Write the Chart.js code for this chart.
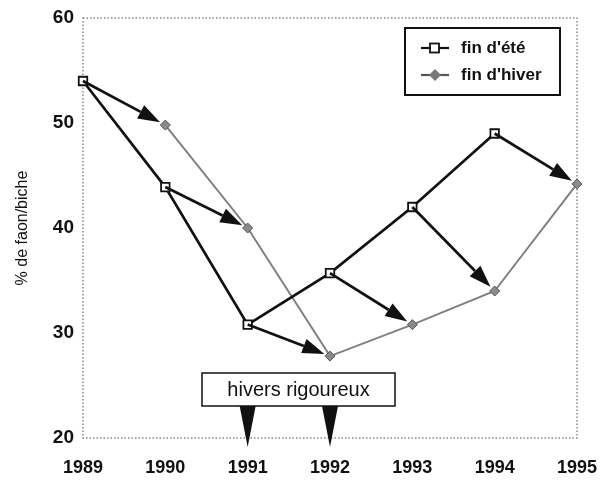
<!DOCTYPE html>
<html>
<head>
<meta charset="utf-8">
<script src="https://cdn.jsdelivr.net/npm/chart.js@4.4.0/dist/chart.umd.min.js"></script>
<style>
  html, body { margin: 0; padding: 0; background: #fff; }
  #wrap { width: 601px; height: 482px; }
</style>
</head>
<body>
<div id="wrap"><canvas id="c"></canvas></div>
<script>
const years = ['1989', '1990', '1991', '1992', '1993', '1994', '1995'];
const finEte = [54, 43.9, 30.8, 35.7, 42, 49, null];
const finHiver = [null, 49.8, 40, 27.8, 30.8, 34, 44.2];
const yTicks = [20, 30, 40, 50, 60];
const harshWinters = ['1991', '1992'];
const legendLabels = ["fin d'été", "fin d'hiver"];
const noteText = 'hivers rigoureux';

const FONT = '"Liberation Sans", Arial, sans-serif';

function arrow(ctx, x1, y1, x2, y2, back, len, half) {
    const a = Math.atan2(y2 - y1, x2 - x1);
    const tx = x2 - Math.cos(a) * back, ty = y2 - Math.sin(a) * back;
    const bx = tx - Math.cos(a) * len, by = ty - Math.sin(a) * len;
    ctx.beginPath();
    ctx.moveTo(x1, y1);
    ctx.lineTo(bx, by);
    ctx.stroke();
    ctx.beginPath();
    ctx.moveTo(tx, ty);
    ctx.lineTo(bx + Math.sin(a) * half, by - Math.cos(a) * half);
    ctx.lineTo(bx - Math.sin(a) * half, by + Math.cos(a) * half);
    ctx.closePath();
    ctx.fill();
}

// frame, arrows (été -> hiver suivant), legend and note
const extras = {
    id: 'extras',
    beforeDatasetsDraw(chart) {
        const { ctx, chartArea: a } = chart;
        ctx.save();
        ctx.strokeStyle = '#8a8a8a';
        ctx.lineWidth = 1.5;
        ctx.setLineDash([1.5, 2]);
        ctx.strokeRect(a.left, a.top, a.right - a.left, a.bottom - a.top);
        ctx.restore();
    },
    afterDatasetsDraw(chart) {
        const { ctx, scales: { x, y } } = chart;
        ctx.save();
        ctx.strokeStyle = '#111';
        ctx.fillStyle = '#111';
        ctx.lineWidth = 2.7;
        for (let i = 0; i < years.length - 1; i++) {
            if (finEte[i] == null || finHiver[i + 1] == null) continue;
            arrow(ctx, x.getPixelForValue(i), y.getPixelForValue(finEte[i]),
                x.getPixelForValue(i + 1), y.getPixelForValue(finHiver[i + 1]), 6, 22, 7.5);
        }

        // note box
        ctx.lineWidth = 1.5;
        ctx.fillStyle = '#fff';
        ctx.fillRect(202, 373, 193, 33);
        ctx.strokeRect(202, 373, 193, 33);
        ctx.fillStyle = '#111';
        ctx.font = '20px ' + FONT;
        ctx.textAlign = 'center';
        ctx.textBaseline = 'middle';
        ctx.fillText(noteText, 298.5, 390);
        harshWinters.forEach(w => {
            const px = x.getPixelForValue(years.indexOf(w));
            ctx.beginPath();
            ctx.moveTo(px - 8, 406);
            ctx.lineTo(px + 8, 406);
            ctx.lineTo(px, 447);
            ctx.closePath();
            ctx.fill();
        });

        // legend
        ctx.lineWidth = 2;
        ctx.strokeStyle = '#111';
        ctx.fillStyle = '#fff';
        ctx.fillRect(405, 28, 155, 67);
        ctx.strokeRect(405, 28, 155, 67);
        ctx.lineWidth = 2.2;
        const rows = [48, 75];
        // été symbol
        ctx.beginPath(); ctx.moveTo(421, rows[0]); ctx.lineTo(449, rows[0]); ctx.stroke();
        ctx.fillStyle = '#fff';
        ctx.fillRect(430, rows[0] - 4.5, 9, 9);
        ctx.lineWidth = 1.8;
        ctx.strokeRect(430, rows[0] - 4.5, 9, 9);
        // hiver symbol
        ctx.strokeStyle = '#555';
        ctx.lineWidth = 2.2;
        ctx.beginPath(); ctx.moveTo(421, rows[1]); ctx.lineTo(449, rows[1]); ctx.stroke();
        ctx.fillStyle = '#777';
        ctx.beginPath();
        ctx.moveTo(435, rows[1] - 6); ctx.lineTo(441, rows[1]);
        ctx.lineTo(435, rows[1] + 6); ctx.lineTo(429, rows[1]);
        ctx.closePath(); ctx.fill();
        ctx.fillStyle = '#111';
        ctx.font = 'bold 17px ' + FONT;
        ctx.textAlign = 'left';
        ctx.textBaseline = 'middle';
        ctx.fillText(legendLabels[0], 461, rows[0]);
        ctx.fillText(legendLabels[1], 461, rows[1]);
        ctx.restore();
    }
};

new Chart(document.getElementById('c'), {
    type: 'line',
    data: {
        labels: years,
        datasets: [{
            label: legendLabels[0],
            data: finEte,
            borderColor: '#111',
            borderWidth: 2.7,
            pointStyle: 'rect',
            pointRadius: 6,
            pointBackgroundColor: '#fff',
            pointBorderColor: '#111',
            pointBorderWidth: 1.8,
            tension: 0,
            spanGaps: false
        }, {
            label: legendLabels[1],
            data: finHiver,
            borderColor: '#808080',
            borderWidth: 2,
            pointStyle: 'rectRot',
            pointRadius: 5,
            pointBackgroundColor: '#8a8a8a',
            pointBorderColor: '#555',
            pointBorderWidth: 1,
            tension: 0
        }]
    },
    options: {
        responsive: true,
        maintainAspectRatio: false,
        animation: false,
        layout: { padding: { left: 13, right: 24, top: 18, bottom: 0 } },
        plugins: { legend: { display: false }, tooltip: { enabled: false } },
        scales: {
            x: {
                offset: false,
                grid: { display: false },
                border: { display: false },
                ticks: { color: '#111', font: { family: FONT, size: 18, weight: 'bold' }, padding: 11, maxRotation: 0 },
                afterFit: s => { s.height = 44; s.paddingLeft = 0; s.paddingRight = 0; }
            },
            y: {
                min: 20,
                max: 60,
                afterBuildTicks: s => { s.ticks = yTicks.map(v => ({ value: v })); },
                grid: { display: false },
                border: { display: false },
                ticks: { color: '#111', font: { family: FONT, size: 19, weight: 'bold' }, padding: 1 },
                title: { display: true, text: '% de faon/biche', color: '#111', font: { family: FONT, size: 16 }, padding: { top: 0, bottom: 6 } },
                afterFit: s => { s.width = 70; s.paddingTop = 0; s.paddingBottom = 0; }
            }
        }
    },
    plugins: [extras]
});
</script>
</body>
</html>
